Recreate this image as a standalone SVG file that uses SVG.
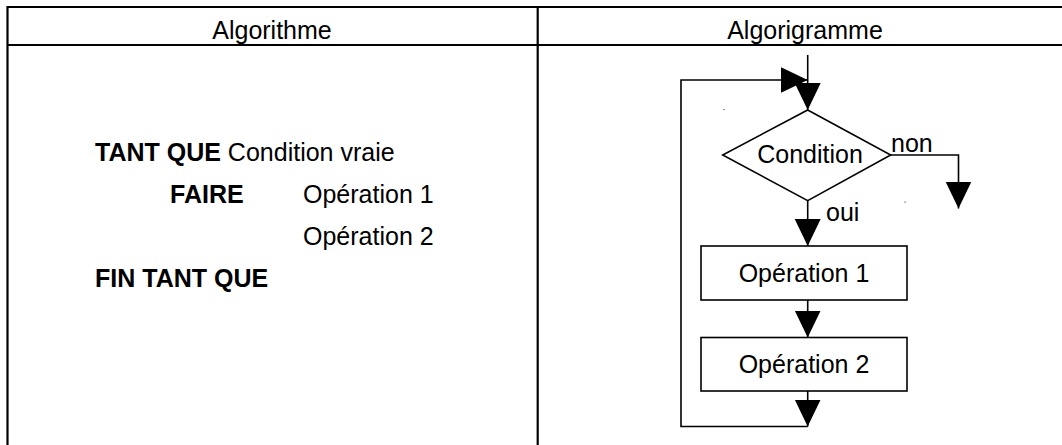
<svg xmlns="http://www.w3.org/2000/svg" width="1062" height="445" viewBox="0 0 1062 445">
<style>
text{font-family:"Liberation Sans",Arial,sans-serif;font-size:25px;fill:#000}
.b{font-weight:bold}
.grid{stroke:#000;stroke-width:2.2;fill:none}
.shape{fill:#fff;stroke:#000;stroke-width:1.6}
.conn path{fill:none;stroke:#000;stroke-width:1.6}
.dot{fill:#555}
</style>
<defs>
<marker id="ah" markerUnits="userSpaceOnUse" markerWidth="28" markerHeight="27" refX="27" refY="13" orient="auto" viewBox="0 0 28 27">
<path d="M0,0 L27,13 L0,26 Z" fill="#000"/>
</marker>
</defs>
<rect width="1062" height="445" fill="#fff"/>
<g id="table" class="grid">
<path d="M1070,7 H7.5 V445"/>
<path d="M7.5,45 H1070"/>
<path d="M537.7,7 V445"/>
</g>
<g id="headers">
<text x="272" y="39" text-anchor="middle">Algorithme</text>
<text x="805" y="39" text-anchor="middle">Algorigramme</text>
</g>
<g id="algorithme">
<text x="95" y="161"><tspan class="b">TANT QUE</tspan> Condition vraie</text>
<text x="170" y="203" class="b">FAIRE</text>
<text x="303" y="203">Opération 1</text>
<text x="303" y="245">Opération 2</text>
<text x="95" y="287" class="b">FIN TANT QUE</text>
</g>
<g id="condition">
<polygon class="shape" points="807.7,110 890.7,155 807.7,200.7 722.7,155"/>
<text x="810" y="163" text-anchor="middle">Condition</text>
</g>
<g id="operation1">
<rect class="shape" x="701" y="246" width="206" height="54"/>
<text x="804" y="282" text-anchor="middle">Opération 1</text>
</g>
<g id="operation2">
<rect class="shape" x="701" y="337.5" width="206" height="53.5"/>
<text x="804" y="373" text-anchor="middle">Opération 2</text>
</g>
<g id="connectors" class="conn">
<path d="M807.7,55 V110" marker-end="url(#ah)"/>
<path d="M807.7,200.7 V246" marker-end="url(#ah)"/>
<path d="M807.7,300 V337.5" marker-end="url(#ah)"/>
<path d="M807.7,391 V426.5" marker-end="url(#ah)"/>
<path d="M807.7,426.5 H681 V80 H807.7" marker-end="url(#ah)"/>
<path d="M890.7,155 H958.5 V208.5" marker-end="url(#ah)"/>
</g>
<g id="labels">
<text x="826" y="221">oui</text>
<text x="891" y="152">non</text>
</g>
<g id="specks">
<rect class="dot" x="723.5" y="109" width="1.2" height="1.2"/>
<rect class="dot" x="904.5" y="201.5" width="1.2" height="1.2"/>
</g>
</svg>
